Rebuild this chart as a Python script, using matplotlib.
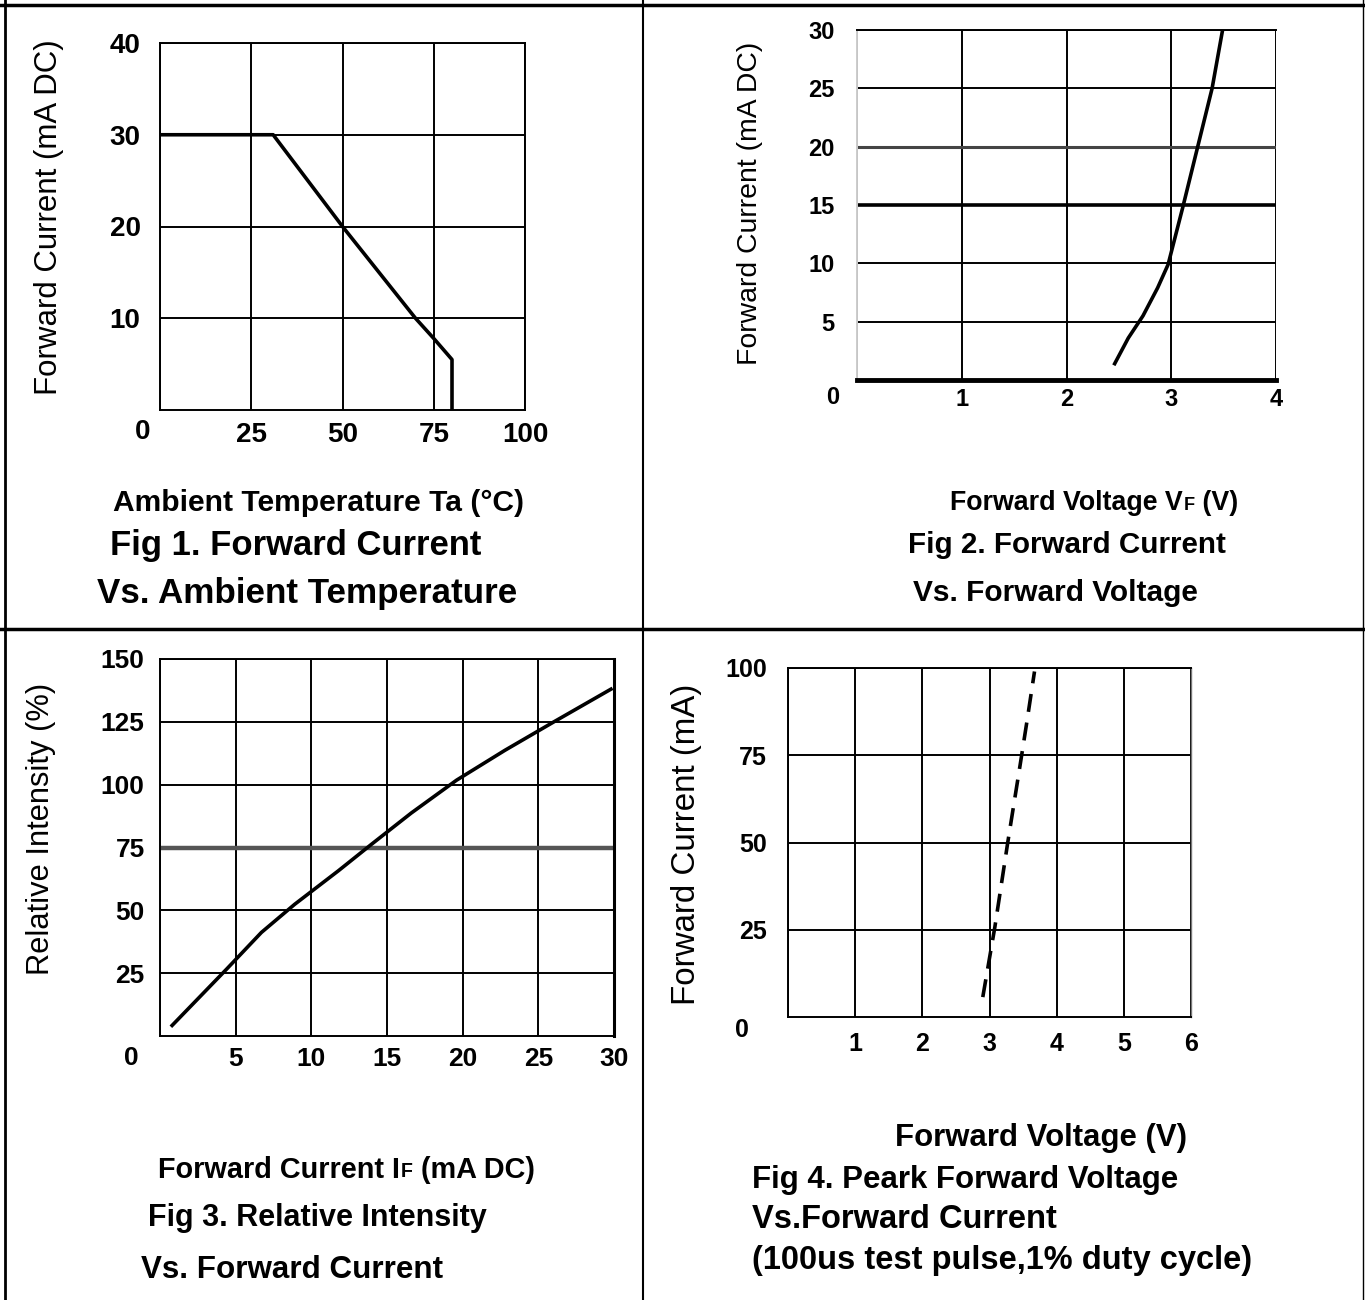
import matplotlib.pyplot as plt

W, H = 1365, 1300

# Fig 1: forward current vs ambient temperature
temp_c = [0, 31, 50, 70, 75, 80, 80]
temp_current = [30, 30, 20, 10, 7.8, 5.5, 0]

# Fig 2: forward current vs forward voltage
vf_volts = [2.46, 2.59, 2.73, 2.87, 2.97, 3.11, 3.25, 3.39, 3.49]
vf_current = [1.4, 3.6, 5.5, 7.9, 9.9, 14.8, 19.9, 25.0, 30.0]

# Fig 3: relative intensity vs forward current
ri_current = [0.8, 4.4, 6.7, 8.9, 11.8, 14.0, 16.6, 19.6, 22.8, 26.0, 29.8]
ri_percent = [4.2, 26.6, 41.2, 52.4, 65.8, 76.4, 88.7, 101.8, 113.7, 124.9, 138]

# Fig 4: peak forward voltage vs forward current (pulsed)
pk_volts = [2.9, 3.08, 3.27, 3.46, 3.56, 3.67]
pk_current = [5.7, 25.8, 49.8, 72.7, 85, 99]

plt.rcParams['font.family'] = ['Liberation Sans', 'DejaVu Sans']

fig = plt.figure(figsize=(W / 100, H / 100), dpi=100)
bg = fig.add_axes([0, 0, 1, 1], zorder=-1)
bg.set_xlim(0, W)
bg.set_ylim(H, 0)
bg.axis('off')
renderer = fig.canvas.get_renderer()

# table borders
bg.plot([0, W], [5, 5], color='black', lw=2.5)
bg.plot([5, 5], [0, H], color='black', lw=2)
bg.plot([1363, 1363], [0, H], color='black', lw=1)
bg.plot([643, 643], [0, H], color='black', lw=1.5)
bg.plot([0, W], [629, 629], color='black', lw=2.5)


def put(x, y, s, width=None, size=20, **kw):
    t = bg.text(x, y, s, fontsize=size, va='center', **kw)
    if width:
        ext = t.get_window_extent(renderer)
        span = ext.height if kw.get('rotation') == 90 else ext.width
        t.set_fontsize(size * width / span)
    return t


def put_sub(x, y, head, sub, tail, width, size=20):
    # label like "Forward Voltage VF (V)" with a small F on the baseline
    parts = []
    for _ in range(2):
        for p in parts:
            p.remove()
        t1 = bg.text(x, y, head, fontsize=size, fontweight='bold', va='center')
        x2 = x + t1.get_window_extent(renderer).width
        t2 = bg.text(x2 + 1, y + size * 0.35, sub, fontsize=size * 0.68,
                     fontweight='bold', va='baseline')
        x3 = x2 + 1 + t2.get_window_extent(renderer).width
        t3 = bg.text(x3, y, tail, fontsize=size, fontweight='bold', va='center')
        parts = [t1, t2, t3]
        total = t3.get_window_extent(renderer).x1 - t1.get_window_extent(renderer).x0
        size = size * width / total


def panel(l, t, r, b, xlim, ylim, xticks, yticks, tsize, xpad, ypad):
    ax = fig.add_axes([l / W, 1 - b / H, (r - l) / W, (b - t) / H])
    ax.set_xlim(*xlim)
    ax.set_ylim(*ylim)
    ax.set_xticks(xticks)
    ax.set_yticks(yticks)
    ax.grid(True, color='black', lw=1.4)
    ax.tick_params(length=0, labelsize=tsize)
    ax.tick_params(axis='x', pad=xpad)
    ax.tick_params(axis='y', pad=ypad)
    for lab in ax.get_xticklabels() + ax.get_yticklabels():
        lab.set_fontweight('bold')
    for sp in ax.spines.values():
        sp.set_linewidth(1.4)
    return ax


# ---- Fig 1
ax1 = panel(160, 43, 525, 410, (0, 100), (0, 40), [0, 25, 50, 75, 100],
            [10, 20, 30, 40], 20, 9, 14)
ax1.set_xticklabels(['', '25', '50', '75', '100'])
ax1.plot(temp_c, temp_current, color='black', lw=2.6)
put(143, 432, '0', size=20, fontweight='bold', ha='center')
put(49, 217, 'Forward Current (mA DC)', 355, rotation=90, ha='center')
put(113, 503, 'Ambient Temperature Ta (°C)', 410, fontweight='bold')
put(110, 546, 'Fig 1. Forward Current', 371, fontweight='bold')
put(97, 593, 'Vs. Ambient Temperature', 420, fontweight='bold')

# ---- Fig 2
ax2 = panel(857, 30, 1276, 380, (0, 4), (0, 30), [0, 1, 2, 3, 4],
            [5, 10, 15, 20, 25, 30], 17, 6, 16)
ax2.set_xticklabels(['', '1', '2', '3', '4'])
ax2.axhline(15, color='black', lw=2.6)
ax2.axhline(20, color='#444444', lw=2.2)
ax2.spines['bottom'].set_linewidth(3.5)
ax2.spines['left'].set_color('#cccccc')
ax2.spines['right'].set_visible(False)
ax2.plot(vf_volts, vf_current, color='black', lw=2.6)
put(833, 397, '0', size=17, fontweight='bold', ha='center')
put(750, 203, 'Forward Current (mA DC)', 323, rotation=90, ha='center')
put_sub(950, 503, 'Forward Voltage V', 'F', ' (V)', 288)
put(908, 545, 'Fig 2. Forward Current', 318, fontweight='bold')
put(913, 593, 'Vs. Forward Voltage', 285, fontweight='bold')

# ---- Fig 3
ax3 = panel(160, 659, 614, 1036, (0, 30), (0, 150), [0, 5, 10, 15, 20, 25, 30],
            [25, 50, 75, 100, 125, 150], 19, 8, 11)
ax3.set_xticklabels(['', '5', '10', '15', '20', '25', '30'])
ax3.axhline(75, color='#555555', lw=3.2)
ax3.spines['right'].set_linewidth(2.2)
ax3.plot(ri_current, ri_percent, color='black', lw=2.6)
put(131, 1058, '0', size=19, fontweight='bold', ha='center')
put(41, 829, 'Relative Intensity (%)', 292, rotation=90, ha='center')
put_sub(158, 1170, 'Forward Current I', 'F', ' (mA DC)', 378)
put(148, 1218, 'Fig 3. Relative Intensity', 339, fontweight='bold')
put(141, 1270, 'Vs. Forward Current', 302, fontweight='bold')

# ---- Fig 4
ax4 = panel(788, 668, 1191, 1017, (0, 6), (0, 100), [0, 1, 2, 3, 4, 5, 6],
            [25, 50, 75, 100], 18, 11, 15)
ax4.set_xticklabels(['', '1', '2', '3', '4', '5', '6'])
ax4.spines['right'].set_color('#777777')
ax4.spines['right'].set_linewidth(1)
ax4.plot(pk_volts, pk_current, color='black', lw=2.6, linestyle=(0, (5, 3)))
put(742, 1030, '0', size=18, fontweight='bold', ha='center')
put(687, 844, 'Forward Current (mA)', 322, rotation=90, ha='center')
put(895, 1138, 'Forward Voltage (V)', 292, fontweight='bold')
put(752, 1180, 'Fig 4. Peark Forward Voltage', 426, fontweight='bold')
put(752, 1220, 'Vs.Forward Current', 305, fontweight='bold')
put(752, 1260, '(100us test pulse,1% duty cycle)', 500, fontweight='bold')

fig.savefig('out.png', dpi=100)
